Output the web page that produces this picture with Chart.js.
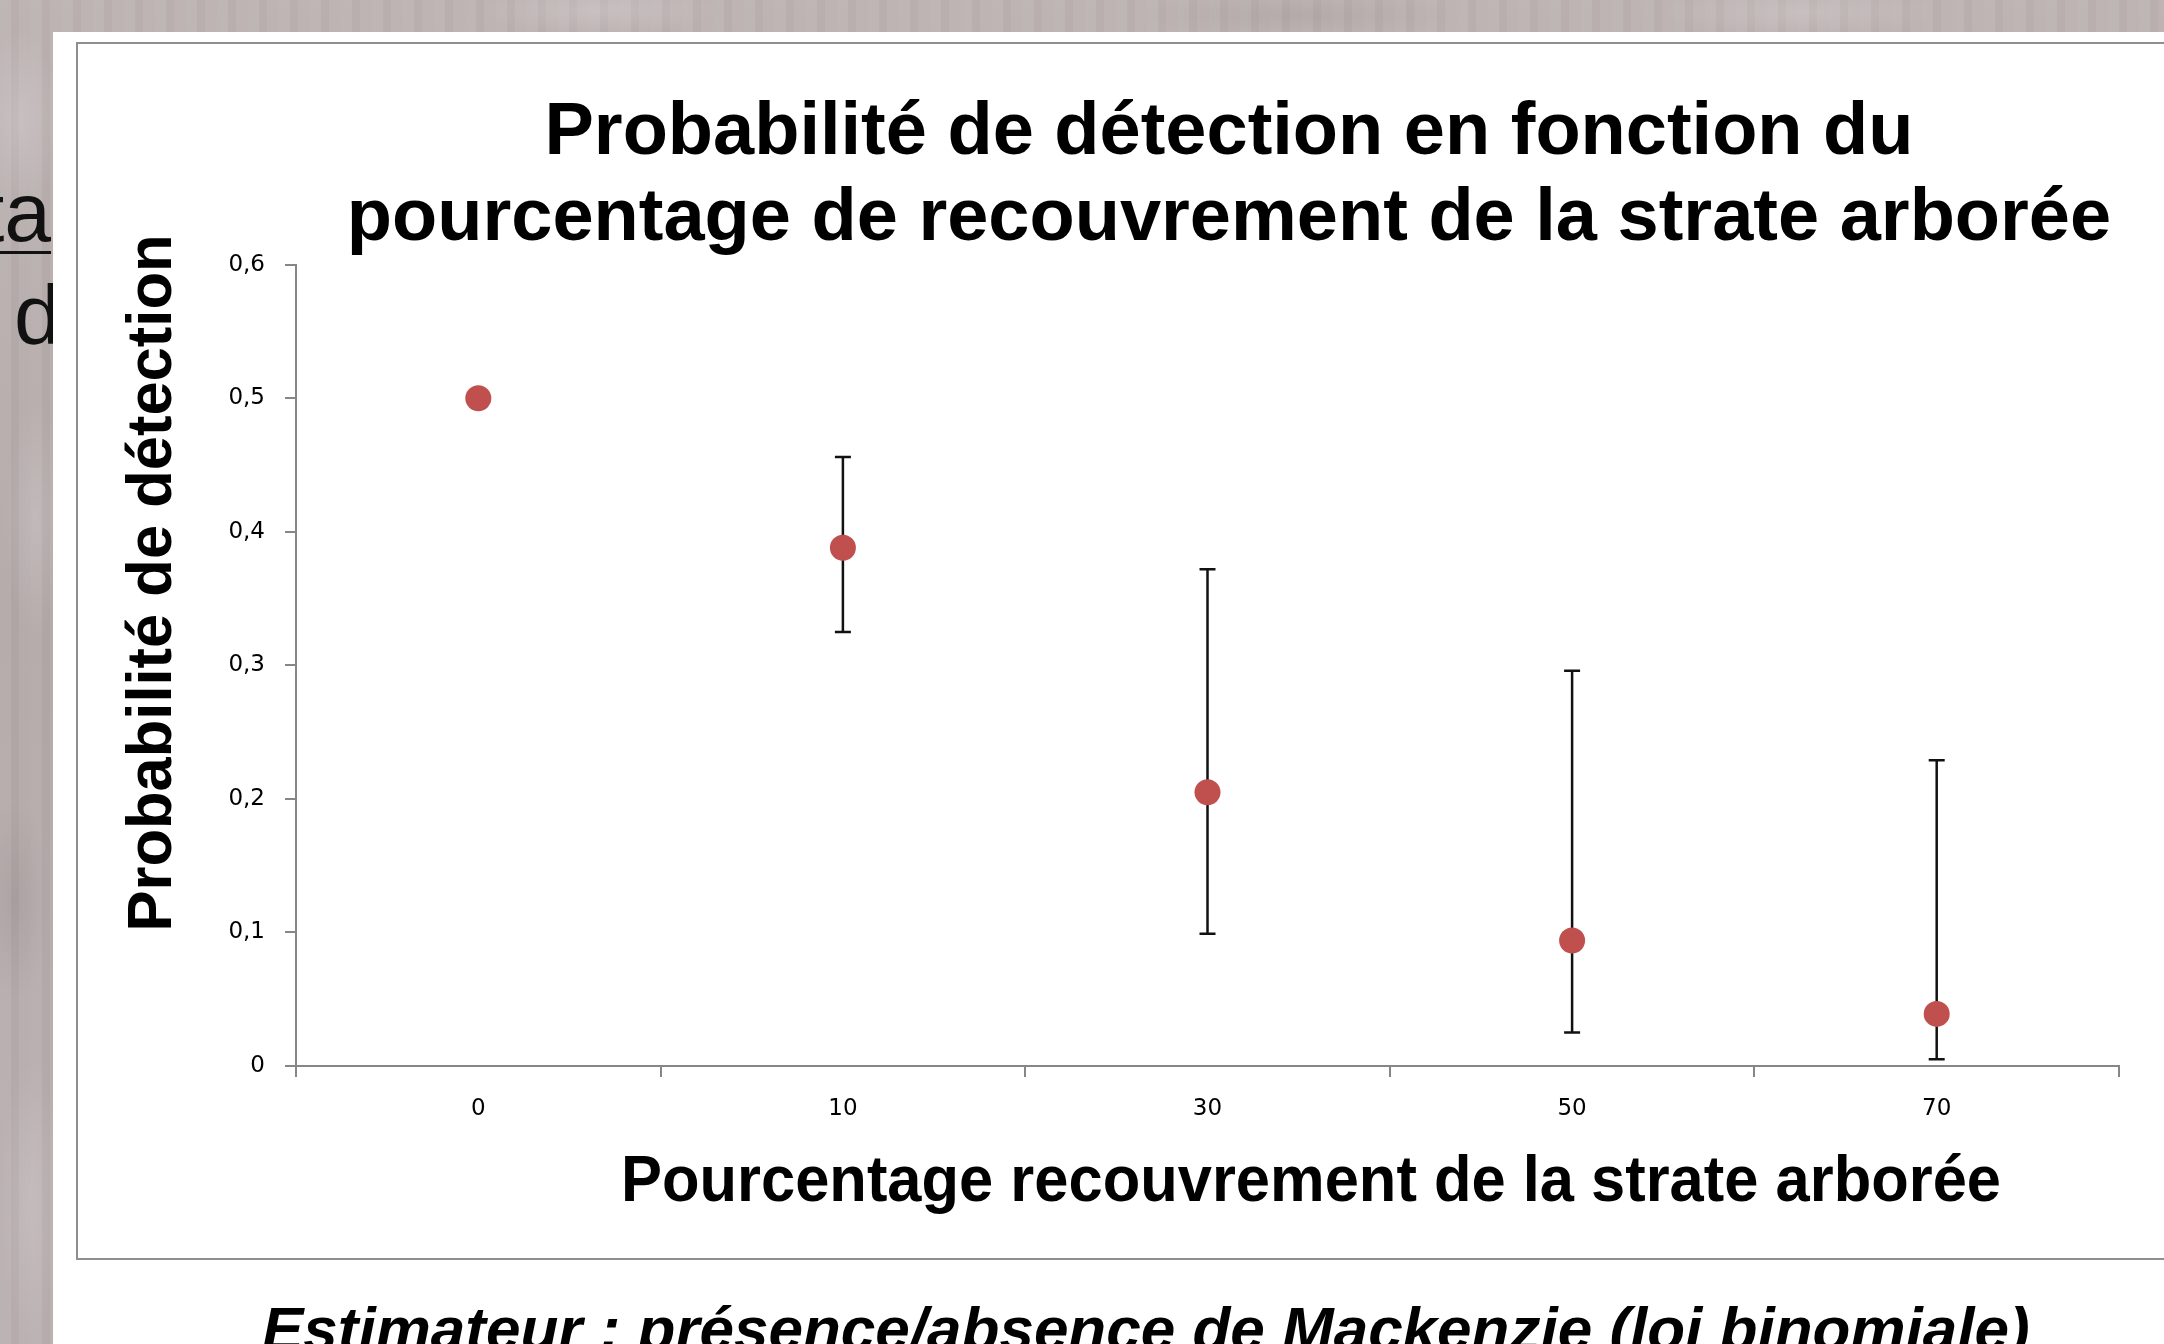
<!DOCTYPE html>
<html lang="fr">
<head>
<meta charset="utf-8">
<title>Probabilité de détection</title>
<script src="https://cdn.jsdelivr.net/npm/chart.js@4.4.1/dist/chart.umd.min.js"></script>
<style>
    html, body {
        margin: 0;
        padding: 0;
    }
    body {
        width: 2164px;
        height: 1344px;
        overflow: hidden;
        position: relative;
        background-color: #b8aead;
        background-image:
            radial-gradient(ellipse 40px 90px at 20px 120px, rgba(255,255,255,0.18), transparent),
            radial-gradient(ellipse 30px 120px at 35px 520px, rgba(255,255,255,0.15), transparent),
            radial-gradient(ellipse 35px 100px at 15px 900px, rgba(90,80,80,0.12), transparent),
            radial-gradient(ellipse 30px 140px at 30px 1200px, rgba(255,255,255,0.14), transparent),
            radial-gradient(ellipse 120px 25px at 600px 10px, rgba(255,255,255,0.16), transparent),
            radial-gradient(ellipse 160px 25px at 1300px 15px, rgba(90,80,80,0.10), transparent),
            radial-gradient(ellipse 140px 25px at 1800px 12px, rgba(255,255,255,0.14), transparent),
            repeating-linear-gradient(90deg, rgba(255,255,255,0.035) 0 11px, rgba(0,0,0,0.025) 11px 19px, rgba(255,255,255,0.02) 19px 31px),
            linear-gradient(180deg, #bdb3b3 0%, #b3a9a9 45%, #bab0b1 100%);
        font-family: "Liberation Sans", Arial, sans-serif;
    }
    .slide-text {
        position: absolute;
        font-size: 84px;
        color: #111;
        white-space: nowrap;
        line-height: 1;
    }
    #under1 {
        right: 2113px;
        top: 170px;
        text-decoration: underline;
        text-decoration-thickness: 3px;
        text-underline-offset: 10px;
    }
    #under2 {
        left: 14px;
        top: 273px;
    }
    #slide {
        position: absolute;
        left: 53px;
        top: 32px;
        right: 0;
        bottom: 0;
        background: #fff;
    }
    #frame {
        position: absolute;
        left: 76px;
        top: 42px;
        width: 2302px;
        height: 1214px;
        border: 2px solid #8f8f8f;
        background: #fff;
    }
    #chart {
        display: block;
    }
    #caption {
        position: absolute;
        left: 262px;
        top: 1298px;
        font-size: 62px;
        line-height: 1;
        font-weight: bold;
        font-style: italic;
        text-decoration: underline;
        text-decoration-thickness: 4px;
        color: #000;
        white-space: nowrap;
    }
</style>
</head>
<body>
<div class="slide-text" id="under1">ta</div>
<div class="slide-text" id="under2">d</div>
<div id="slide"></div>
<div id="frame"><canvas id="chart" width="2302" height="1214"></canvas></div>
<div id="caption">Estimateur : présence/absence de Mackenzie (loi binomiale)</div>

<script>
'use strict';

// Chart data.
const categories = ['0', '10', '30', '50', '70'];
const probability = [0.5, 0.388, 0.205, 0.094, 0.039];
const lowerBound = [null, 0.325, 0.099, 0.025, 0.005];
const upperBound = [null, 0.456, 0.372, 0.296, 0.229];

const yTicks = [0, 0.1, 0.2, 0.3, 0.4, 0.5, 0.6];

const chartTitle = ['Probabilité de détection en fonction du', 'pourcentage de recouvrement de la strate arborée'];
const xTitle = 'Pourcentage recouvrement de la strate arborée';
const yTitle = 'Probabilité de détection';

const AXIS_GREY = '#868686';
const POINT_RED = '#C0504D';

// Vertical error bars drawn behind the points.
const errorBars = {
    id: 'errorBars',
    beforeDatasetsDraw(chart) {
        const ctx = chart.ctx;
        const xs = chart.scales.x;
        const ys = chart.scales.y;
        ctx.save();
        ctx.strokeStyle = '#111';
        ctx.lineWidth = 2.5;
        for (let i = 0; i < categories.length; i++) {
            if (lowerBound[i] == null || upperBound[i] == null) {
                continue;
            }
            let x = xs.getPixelForValue(i);
            let yLo = ys.getPixelForValue(lowerBound[i]);
            let yHi = ys.getPixelForValue(upperBound[i]);
            ctx.beginPath();
            ctx.moveTo(x, yLo);
            ctx.lineTo(x, yHi);
            ctx.moveTo(x - 8, yLo);
            ctx.lineTo(x + 8, yLo);
            ctx.moveTo(x - 8, yHi);
            ctx.lineTo(x + 8, yHi);
            ctx.stroke();
        }
        ctx.restore();
    }
};

// Axis titles placed where they sit in the original (not centred on the axes).
const axisTitles = {
    id: 'axisTitles',
    afterDraw(chart) {
        const ctx = chart.ctx;
        ctx.save();
        ctx.fillStyle = '#000';
        ctx.textAlign = 'center';
        ctx.textBaseline = 'alphabetic';

        ctx.font = 'bold 64px "Liberation Sans", Arial, sans-serif';
        ctx.fillText(xTitle, 1233, 1157, 1380);

        ctx.translate(93, 539);
        ctx.rotate(-Math.PI / 2);
        ctx.font = 'bold 63px "Liberation Sans", Arial, sans-serif';
        ctx.fillText(yTitle, 0, 0, 697);
        ctx.restore();
    }
};

function tickFormat(v) {
    if (v === 0) {
        return '0';
    }
    return v.toFixed(1).replace('.', ',');
}

const tickFont = {
    family: '"DejaVu Sans", Verdana, sans-serif',
    size: 23,
};

const ctx = document.getElementById('chart').getContext('2d');
new Chart(ctx, {
    type: 'line',
    data: {
        labels: categories,
        datasets: [
            {
                label: 'Probabilité',
                data: probability,
                showLine: false,
                pointRadius: 13,
                pointHoverRadius: 13,
                pointBackgroundColor: POINT_RED,
                pointBorderColor: POINT_RED,
                pointBorderWidth: 0,
                backgroundColor: POINT_RED,
                borderColor: POINT_RED,
            },
        ],
    },
    options: {
        responsive: false,
        animation: false,
        devicePixelRatio: 1,
        events: [],
        layout: {
            padding: 0,
        },
        plugins: {
            legend: { display: false },
            tooltip: { enabled: false },
            title: {
                display: true,
                text: chartTitle,
                color: '#000',
                font: {
                    family: '"Liberation Sans", Arial, sans-serif',
                    size: 74,
                    weight: 'bold',
                    lineHeight: 1.16,
                },
                padding: { top: 47, bottom: 2 },
            },
        },
        scales: {
            x: {
                type: 'category',
                offset: true,
                grid: {
                    display: true,
                    offset: true,
                    drawOnChartArea: false,
                    drawTicks: true,
                    tickLength: 11,
                    color: AXIS_GREY,
                    lineWidth: 2,
                },
                border: { display: true, color: AXIS_GREY, width: 2 },
                ticks: {
                    font: tickFont,
                    color: '#000',
                    padding: 18,
                    maxRotation: 0,
                },
                afterFit(scale) {
                    scale.height = 192;
                },
            },
            y: {
                type: 'linear',
                position: 'left',
                min: 0,
                max: 0.6,
                afterBuildTicks(scale) {
                    scale.ticks = yTicks.map(v => ({ value: v }));
                },
                grid: {
                    display: true,
                    drawOnChartArea: false,
                    drawTicks: true,
                    tickLength: 11,
                    color: AXIS_GREY,
                    lineWidth: 2,
                },
                border: { display: true, color: AXIS_GREY, width: 2 },
                ticks: {
                    font: tickFont,
                    color: '#000',
                    padding: 20,
                    callback: (v) => tickFormat(v),
                },
                afterFit(scale) {
                    scale.width = 218;
                },
            },
            // Empty right-hand axis: the original plot stops short of the chart frame.
            yRight: {
                type: 'linear',
                position: 'right',
                display: true,
                grid: { display: false },
                border: { display: false },
                ticks: { display: false },
                afterFit(scale) {
                    scale.width = 261;
                },
            },
        },
    },
    plugins: [errorBars, axisTitles],
});
</script>
</body>
</html>
